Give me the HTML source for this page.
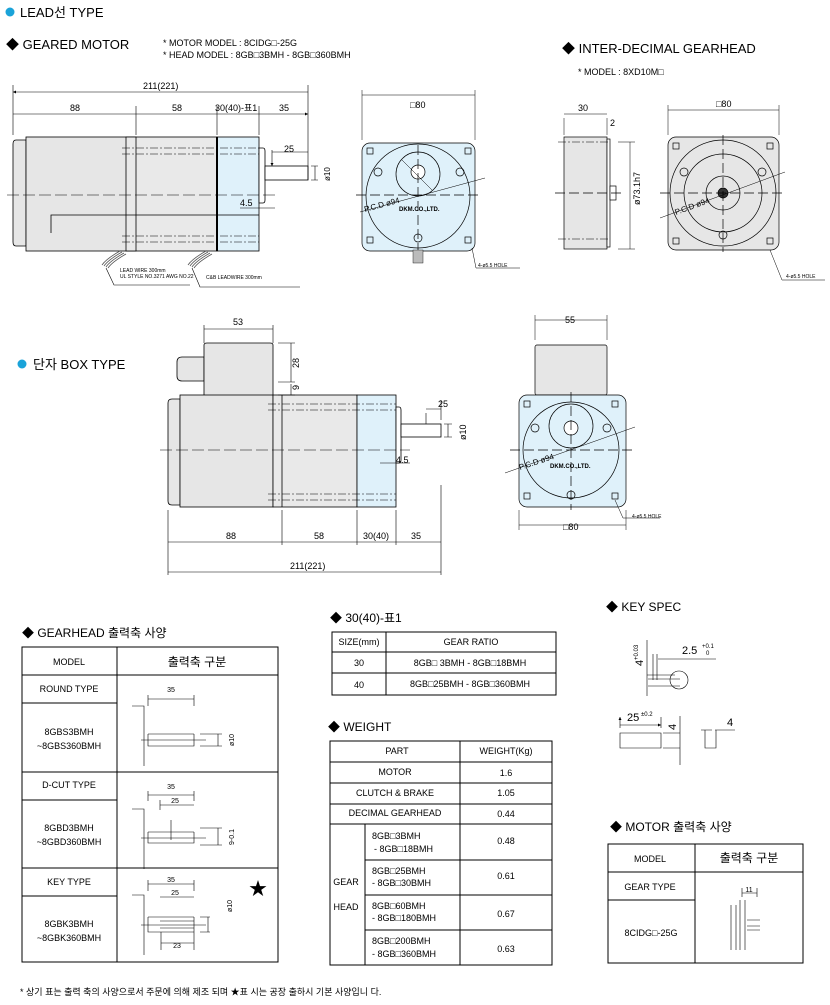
<!DOCTYPE html>
<html><head><meta charset="utf-8"><style>
html,body{margin:0;padding:0;background:#fff;}
svg{display:block;font-family:"Liberation Sans","Noto Sans CJK KR",sans-serif;}
</style></head><body>
<svg width="830" height="1005" viewBox="0 0 830 1005" xmlns="http://www.w3.org/2000/svg">
<defs>
<marker id="a" viewBox="0 0 6 6" refX="6" refY="3" markerWidth="5" markerHeight="5" orient="auto-start-reverse"><path d="M0,0L6,3L0,6z" fill="#000"/></marker>
</defs>
<g fill="#000" font-size="13">
<circle cx="10" cy="12" r="4.5" fill="#1aa3d9"/>
<text x="20" y="17">LEAD선 TYPE</text>
<text x="6" y="49">◆ GEARED MOTOR</text>
<text x="163" y="46" font-size="9">* MOTOR MODEL : 8CIDG□-25G</text>
<text x="163" y="58" font-size="9">* HEAD MODEL : 8GB□3BMH - 8GB□360BMH</text>
<text x="562" y="53">◆ INTER-DECIMAL GEARHEAD</text>
<text x="578" y="75" font-size="9">* MODEL : 8XD10M□</text>
<circle cx="22" cy="364" r="4.5" fill="#1aa3d9"/>
<text x="33" y="369">단자 BOX TYPE</text>
<text x="22" y="637" font-size="12">◆ GEARHEAD 출력축 사양</text>
<text x="330" y="622" font-size="12">◆ 30(40)-표1</text>
<text x="328" y="731" font-size="12">◆ WEIGHT</text>
<text x="606" y="611" font-size="12">◆ KEY SPEC</text>
<text x="610" y="831" font-size="12">◆ MOTOR 출력축 사양</text>
<text x="20" y="995" font-size="9">* 상기  표는 출력 축의 사양으로서 주문에 의해 제조 되며 ★표 시는 공장 출하시 기본 사양입니 다.</text>
</g>

<!-- GEARED MOTOR side -->
<g stroke="#000" stroke-width="0.8">
<path d="M26,140 h-10 q-3,0 -3,4 v98 q0,4 3,4 h10z" fill="#e6e6e6"/>
<rect x="26" y="137" width="110" height="114" fill="#e6e6e6"/>
<rect x="126" y="137" width="91" height="114" fill="#e9e9e9"/>
<line x1="136" y1="137" x2="136" y2="251"/>
<rect x="217" y="137" width="42" height="114" fill="#dff1fa"/>
<line x1="217" y1="137" x2="217" y2="251" stroke-width="2"/>
<path d="M259,148 h4 q2,0 2,3 v49 q0,3 -2,3 h-4z" fill="#fff"/>
<rect x="265" y="166" width="43" height="14" fill="#fff"/>
<path d="M51,233 v-18 h208" fill="none"/>
</g>
<g stroke="#555" stroke-width="0.8" fill="none">
<path d="M102,265 q4,-6 18,-14 M104,266 q4,-6 18,-14 M106,267 q4,-6 18,-14 M108,268 q4,-6 18,-14"/>
<path d="M188,265 q4,-6 18,-14 M190,266 q4,-6 18,-14 M192,267 q4,-6 18,-14 M194,268 q4,-6 18,-14"/>
</g>
<g stroke="#000" stroke-width="0.6" fill="none">
<path d="M7,195 H275" stroke-dasharray="12,4"/>
<path d="M122,148 H259 M122,154 H259 M122,236 H259 M122,242 H259" stroke-dasharray="8,2,2,2"/>
<path d="M13,85 V135 M308,85 V180 M136,106 V135 M217,106 V135 M259,106 V135" />
<path d="M13,92 H308 M13,114 H136 M136,114 H217 M217,114 H259 M259,114 H308" marker-start="url(#a)" marker-end="url(#a)"/>
<path d="M272,152 H308 M272,150 V166" marker-end="url(#a)"/>
<path d="M311,166 H318 M311,180 H318 M315,166 V180 M259,208 H275 M240,208 H259"/>
<path d="M106,268 l8,17 H190 M192,268 l8,19 H300"/>
</g>
<g font-size="9" fill="#000">
<text x="143" y="89">211(221)</text><text x="70" y="111">88</text><text x="172" y="111">58</text><text x="215" y="111">30(40)-표1</text><text x="279" y="111">35</text>
<text x="284" y="152">25</text><text x="240" y="206">4.5</text>
<text transform="translate(330,181) rotate(-90)" font-size="8">ø10</text>
<text x="120" y="272" font-size="5">LEAD WIRE 300mm</text><text x="120" y="278" font-size="5">UL STYLE NO.3271 AWG NO.22</text>
<text x="206" y="279" font-size="5">C&amp;B LEADWIRE 300mm</text>
</g>

<!-- front view 1 -->
<g stroke="#000" stroke-width="0.7">
<rect x="362" y="143" width="113" height="108" rx="8" fill="#dff1fa"/>
<circle cx="418" cy="196" r="52" fill="none"/>
<circle cx="418" cy="174" r="22" fill="none"/>
<circle cx="418" cy="172" r="7" fill="#fff"/>
<circle cx="378" cy="172" r="4" fill="none"/><circle cx="460" cy="172" r="4" fill="none"/><circle cx="418" cy="238" r="4" fill="none"/>
<g fill="none"><rect x="367" y="148" width="6" height="6"/><rect x="465" y="148" width="6" height="6"/><rect x="367" y="237" width="6" height="6"/><rect x="465" y="237" width="6" height="6"/></g>
<path d="M356,195 H480 M418,145 V250" stroke-dasharray="10,4" fill="none"/>
<path d="M360,212 L485,178 M402,160 L432,190 M472,248 L476,268 H520" fill="none" stroke-width="0.5"/>
<path d="M362,95 H475 M362,90 V140 M475,90 V140" fill="none" stroke-width="0.5"/>
<rect x="413" y="250" width="10" height="13" fill="#bbb" stroke-width="0.4"/>
</g>
<g font-size="9" fill="#000"><text x="410" y="108">□80</text><text x="399" y="211" font-size="6" font-weight="bold">DKM.CO.,LTD.</text>
<text x="365" y="212" font-size="8" transform="rotate(-15 365 212)">P.C.D ø94</text>
<text x="478" y="267" font-size="5">4-ø5.5 HOLE</text></g>

<!-- inter-decimal -->
<g stroke="#000" stroke-width="0.7">
<rect x="564" y="137" width="43" height="112" fill="#e6e6e6"/>
<rect x="607" y="139" width="3" height="108" fill="#fff"/>
<rect x="610" y="186" width="6" height="14" fill="#fff"/>
<rect x="668" y="137" width="111" height="113" rx="8" fill="#e6e6e6"/>
<circle cx="723" cy="193" r="53" fill="none"/><circle cx="723" cy="193" r="39" fill="none"/><circle cx="723" cy="193" r="17" fill="none"/><circle cx="723" cy="193" r="5" fill="#333"/>
<circle cx="684" cy="172" r="4" fill="none"/><circle cx="762" cy="172" r="4" fill="none"/><circle cx="723" cy="235" r="4" fill="none"/>
<g fill="none"><rect x="673" y="143" width="6" height="6"/><rect x="767" y="143" width="6" height="6"/><rect x="673" y="238" width="6" height="6"/><rect x="767" y="238" width="6" height="6"/></g>
<path d="M555,193 H625 M660,193 H785 M723,135 V252" stroke-dasharray="10,4" fill="none"/>
<path d="M558,142 H610 M558,239 H610" stroke-dasharray="8,2,2,2" fill="none" stroke-width="0.5"/>
<path d="M564,118 V135 M607,118 V135 M564,114 H607 M618,142 H635 M618,249 H635 M630,142 V249 M668,105 V135 M779,105 V135 M668,110 H779 M770,250 L782,280 H825 M660,218 L785,172" fill="none" stroke-width="0.5"/>
</g>
<g font-size="9" fill="#000"><text x="578" y="111">30</text><text x="610" y="126">2</text><text x="716" y="107">□80</text>
<text transform="translate(640,205) rotate(-90)">ø73.1h7</text><text x="786" y="278" font-size="5">4-ø5.5 HOLE</text>
<text x="676" y="215" font-size="8" transform="rotate(-20 676 215)">P.C.D ø94</text></g>

<!-- BOX type side -->
<g stroke="#000" stroke-width="0.8">
<path d="M204,357 h-22 q-5,0 -5,5 v14 q0,5 5,5 h22z" fill="#e6e6e6"/>
<path d="M204,345 q0,-2 3,-2 h63 q3,0 3,2 v64 h-69z" fill="#e6e6e6"/>
<path d="M180,399 h-8 q-4,0 -4,4 v98 q0,4 4,4 h8z" fill="#e6e6e6"/>
<rect x="180" y="395" width="93" height="112" fill="#e6e6e6"/>
<rect x="273" y="395" width="84" height="112" fill="#e9e9e9"/>
<line x1="282" y1="395" x2="282" y2="507"/>
<rect x="357" y="395" width="39" height="112" fill="#dff1fa"/>
<path d="M396,407 h3 q2,0 2,3 v50 q0,3 -2,3 h-3z" fill="#fff"/>
<rect x="401" y="424" width="40" height="13" fill="#fff"/>
</g>
<g stroke="#000" stroke-width="0.6" fill="none">
<path d="M160,450 H410" stroke-dasharray="12,4"/>
<path d="M268,404 H396 M268,410 H396 M268,494 H396 M268,500 H396" stroke-dasharray="8,2,2,2"/>
<path d="M204,325 V343 M273,325 V343 M204,329 H273 M278,343 H295 M278,382 H295 M278,395 H295 M291,343 V382 M291,384 V395" />
<path d="M168,510 V575 M282,510 V545 M357,510 V545 M396,510 V545 M441,485 V575 M168,542 H441 M168,572 H441"/>
<path d="M426,413 V424 M426,409 H441 M441,400 V420 M444,424 H452 M444,437 H452 M448,424 V437 M380,463 H410"/>
</g>
<g font-size="9" fill="#000"><text x="233" y="325">53</text><text transform="translate(299,368) rotate(-90)">28</text><text transform="translate(299,390) rotate(-90)">9</text>
<text x="438" y="407">25</text><text transform="translate(466,440) rotate(-90)">ø10</text><text x="396" y="463">4.5</text>
<text x="226" y="539">88</text><text x="314" y="539">58</text><text x="363" y="539">30(40)</text><text x="411" y="539">35</text><text x="290" y="569">211(221)</text></g>

<!-- BOX type front -->
<g stroke="#000" stroke-width="0.7">
<rect x="535" y="345" width="72" height="50" rx="2" fill="#e6e6e6"/>
<rect x="519" y="395" width="107" height="112" rx="8" fill="#dff1fa"/>
<circle cx="571" cy="450" r="48" fill="none"/><circle cx="571" cy="426" r="22" fill="none"/><circle cx="571" cy="428" r="7" fill="#fff"/>
<circle cx="535" cy="428" r="4" fill="none"/><circle cx="607" cy="428" r="4" fill="none"/><circle cx="571" cy="495" r="4" fill="none"/>
<g fill="none"><rect x="524" y="401" width="6" height="6"/><rect x="612" y="401" width="6" height="6"/><rect x="524" y="493" width="6" height="6"/><rect x="612" y="493" width="6" height="6"/></g>
<path d="M510,450 H635 M571,392 V510" stroke-dasharray="10,4" fill="none"/>
<path d="M505,473 L635,427 M535,315 V340 M607,315 V340 M535,320 H607 M519,510 V530 M626,510 V530 M519,525 H626 M615,500 L623,518 H660" fill="none" stroke-width="0.5"/>
</g>
<g font-size="9" fill="#000"><text x="565" y="323">55</text><text x="563" y="530">□80</text><text x="550" y="468" font-size="6" font-weight="bold">DKM.CO.,LTD.</text>
<text x="632" y="518" font-size="5">4-ø5.5 HOLE</text><text x="520" y="470" font-size="8" transform="rotate(-18 520 470)">P.C.D ø94</text></g>

<!-- GEARHEAD table -->
<g stroke="#000" stroke-width="1" fill="none">
<rect x="22" y="647" width="256" height="315"/>
<path d="M117,647 V962 M22,675 H278 M22,703 H117 M22,772 H278 M22,800 H117 M22,868 H278 M22,896 H117"/>
</g>
<g stroke="#000" stroke-width="0.6" fill="none">
<path d="M132,706 h12 v60 M148,706 V695 M194,706 V695 M148,699 H194 M148,734 H194 M148,734 V746 H194 V734 M141,740 H206 M200,734 H222 M200,746 H222 M218,734 V746"/>
<path d="M132,809 h12 v60 M148,801 V791 M194,801 V791 M148,795 H194 M160,805 H194 M160,800 V810 M148,832 H194 M148,832 V843 H194 V832 M141,838 H206 M200,828 H222 M200,845 H222 M218,828 V845 M171,820 V840"/>
<path d="M132,895 h12 v60 M148,891 V880 M194,891 V880 M148,884 H194 M160,897 H194 M148,917 H194 M148,917 V932 H194 V917 M160,921 H194 M160,928 H194 M141,925 H206 M200,917 H210 M200,932 H210 M208,917 V932 M161,943 H194 M161,932 V950 M194,932 V950"/>
</g>
<g font-size="9" fill="#000" text-anchor="middle"><text x="69" y="665">MODEL</text><text x="197" y="666" font-size="12">출력축 구분</text>
<text x="69" y="692">ROUND TYPE</text><text x="69" y="735">8GBS3BMH</text><text x="69" y="749">~8GBS360BMH</text>
<text x="69" y="788">D-CUT TYPE</text><text x="69" y="831">8GBD3BMH</text><text x="69" y="845">~8GBD360BMH</text>
<text x="69" y="885">KEY TYPE</text><text x="69" y="927">8GBK3BMH</text><text x="69" y="941">~8GBK360BMH</text>
<text x="171" y="692" font-size="7">35</text><text x="171" y="789" font-size="7">35</text><text x="175" y="803" font-size="7">25</text><text x="171" y="882" font-size="7">35</text><text x="175" y="895" font-size="7">25</text><text x="177" y="948" font-size="7">23</text>
<text x="258" y="895" font-size="18">★</text>
<text transform="translate(234,740) rotate(-90)" font-size="7">ø10</text><text transform="translate(234,837) rotate(-90)" font-size="7">9-0.1</text><text transform="translate(232,906) rotate(-90)" font-size="7">ø10</text></g>

<!-- 30(40) table -->
<g stroke="#000" stroke-width="1" fill="none"><rect x="332" y="632" width="224" height="63"/><path d="M386,632 V695 M332,652 H556 M332,673 H556"/></g>
<g font-size="9" fill="#000" text-anchor="middle"><text x="359" y="645">SIZE(mm)</text><text x="471" y="645">GEAR RATIO</text>
<text x="359" y="666">30</text><text x="470" y="666">8GB□ 3BMH - 8GB□18BMH</text><text x="359" y="688">40</text><text x="470" y="687">8GB□25BMH - 8GB□360BMH</text></g>

<!-- WEIGHT -->
<g stroke="#000" stroke-width="1" fill="none"><rect x="330" y="741" width="222" height="224"/>
<path d="M460,741 V965 M365,824 V965 M330,762 H552 M330,783 H552 M330,804 H552 M330,824 H552 M365,860 H552 M365,895 H552 M365,930 H552"/></g>
<g font-size="9" fill="#000" text-anchor="middle"><text x="397" y="754">PART</text><text x="506" y="754">WEIGHT(Kg)</text>
<text x="395" y="775">MOTOR</text><text x="506" y="776">1.6</text><text x="395" y="796">CLUTCH &amp; BRAKE</text><text x="506" y="796">1.05</text>
<text x="395" y="816">DECIMAL GEARHEAD</text><text x="506" y="817">0.44</text>
<text x="346" y="885">GEAR</text><text x="346" y="910">HEAD</text>
<text x="506" y="844">0.48</text><text x="506" y="879">0.61</text><text x="506" y="917">0.67</text><text x="506" y="952">0.63</text></g>
<g font-size="9" fill="#000"><text x="372" y="839">8GB□3BMH</text><text x="374" y="852">- 8GB□18BMH</text>
<text x="372" y="874">8GB□25BMH</text><text x="372" y="886">- 8GB□30BMH</text><text x="372" y="909">8GB□60BMH</text><text x="372" y="921">- 8GB□180BMH</text>
<text x="372" y="944">8GB□200BMH</text><text x="372" y="957">- 8GB□360BMH</text></g>

<!-- KEY SPEC -->
<g stroke="#000" stroke-width="0.6" fill="none">
<path d="M647,640 V696 M647,675 H675 M653,680 V654 M657,680 V654 M658,659 H716 M648,679 L680,679 M648,686 H680"/>
<circle cx="679" cy="680" r="9"/>
<path d="M620,717 V728 M661,717 V728 M620,725 H661" marker-start="url(#a)" marker-end="url(#a)"/>
<path d="M620,733 V748 H661 V733 Z M663,733 H680 M663,748 H680 M680,716 V765 M701,730 H712 M705,730 V748 H716 V730 M715,730 H735"/>
</g>
<g font-size="11" fill="#000"><text x="682" y="654">2.5</text><text x="702" y="648" font-size="6">+0.1</text><text x="706" y="655" font-size="6">0</text>
<text transform="translate(643,666) rotate(-90)">4</text><text transform="translate(638,660) rotate(-90)" font-size="6">+0.03</text>
<text x="627" y="721">25</text><text x="641" y="716" font-size="6">±0.2</text><text transform="translate(676,730) rotate(-90)">4</text><text x="727" y="726">4</text></g>

<!-- MOTOR table -->
<g stroke="#000" stroke-width="1" fill="none"><rect x="608" y="844" width="195" height="119"/><path d="M695,844 V963 M608,872 H803 M608,900 H695"/></g>
<g stroke="#000" stroke-width="0.6" fill="none"><path d="M731,905 V950 M736,905 V950 M740,900 V950 M745,900 V950 M742,897 V888 M757,897 V888 M742,893 H757 M747,920 H760 M747,926 H760 M747,930 H760"/></g>
<g font-size="9" fill="#000" text-anchor="middle"><text x="650" y="862">MODEL</text><text x="749" y="862" font-size="12">출력축 구분</text>
<text x="650" y="890">GEAR TYPE</text><text x="651" y="936">8CIDG□-25G</text><text x="749" y="892" font-size="7">11</text></g>
</svg>
</body></html>
